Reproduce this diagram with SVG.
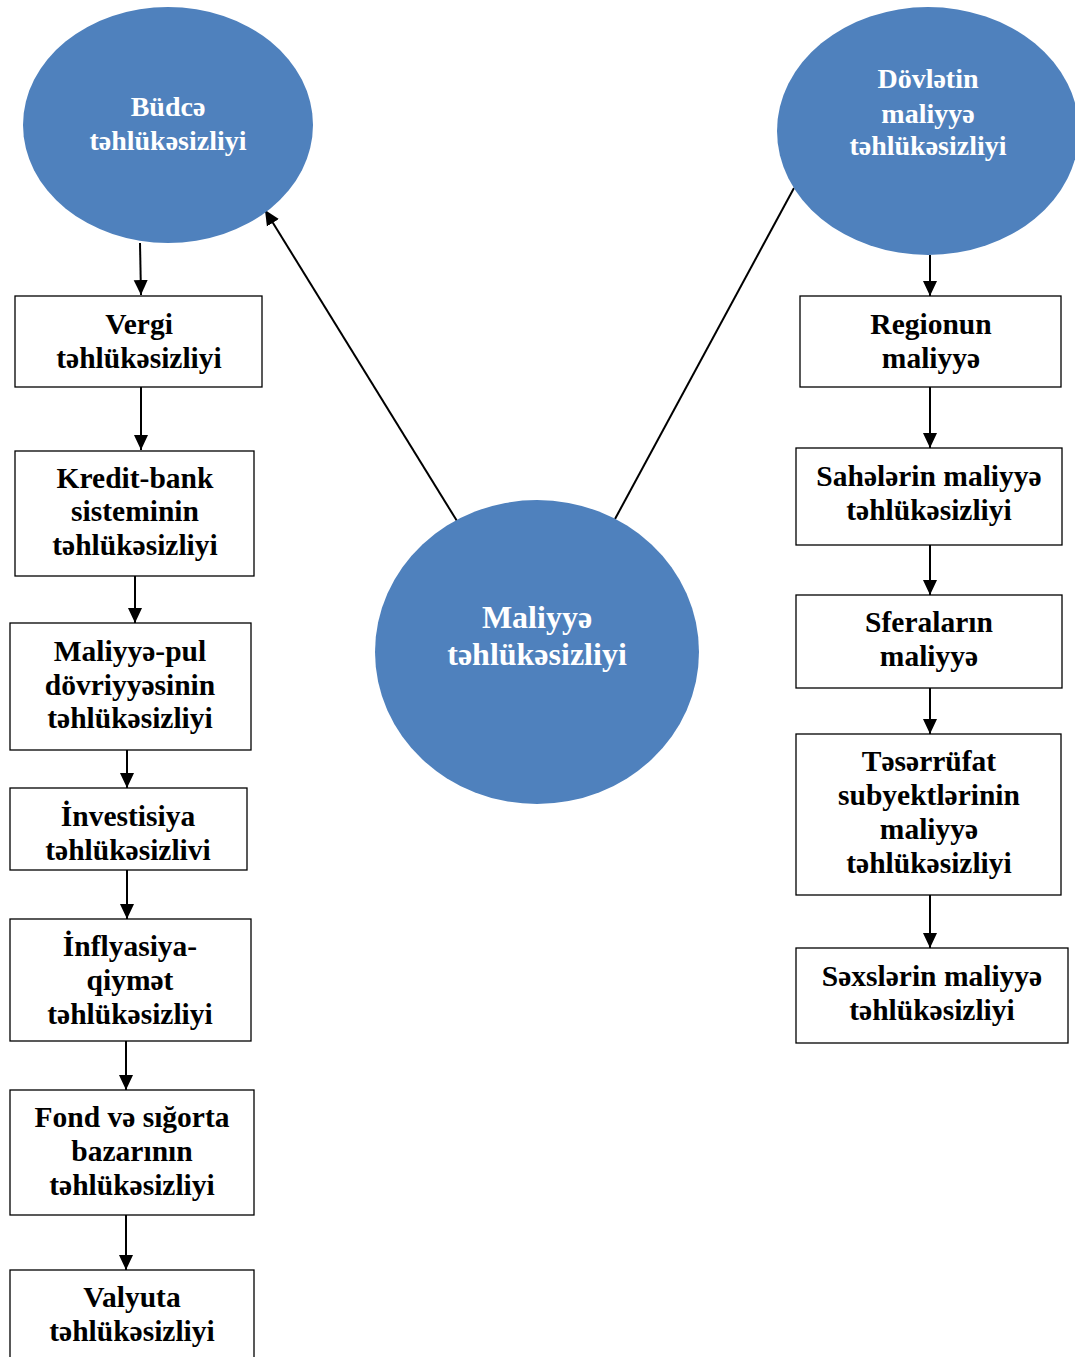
<svg xmlns="http://www.w3.org/2000/svg" width="1075" height="1357" viewBox="0 0 1075 1357">
<style>
.ell{fill:#4F81BD;stroke:none}
.box{fill:#fff;stroke:#000;stroke-width:1.3}
.t{font-family:"Liberation Serif","Times New Roman",serif;font-weight:bold;font-size:29.5px;text-anchor:middle;fill:#000}
.w{fill:#fff;font-size:28px}
.big{font-size:32px}
.c{stroke:#000;stroke-width:2;fill:none}
</style>
<defs>
<marker id="ah" markerUnits="userSpaceOnUse" markerWidth="16" markerHeight="16" viewBox="0 0 16 16" refX="15" refY="8" orient="auto">
<path d="M0,1 L15,8 L0,15 Z" fill="#000"/>
</marker>
</defs>
<rect width="1075" height="1357" fill="#fff"/>
<g id="connectors">
<line class="c" x1="140" y1="243" x2="141" y2="295" marker-end="url(#ah)"/>
<line class="c" x1="141" y1="387" x2="141" y2="450" marker-end="url(#ah)"/>
<line class="c" x1="135" y1="576" x2="135" y2="623" marker-end="url(#ah)"/>
<line class="c" x1="127" y1="750" x2="127" y2="788" marker-end="url(#ah)"/>
<line class="c" x1="127" y1="870" x2="127" y2="919" marker-end="url(#ah)"/>
<line class="c" x1="126" y1="1041" x2="126" y2="1090" marker-end="url(#ah)"/>
<line class="c" x1="126" y1="1215" x2="126" y2="1270" marker-end="url(#ah)"/>
<line class="c" x1="930" y1="255" x2="930" y2="296" marker-end="url(#ah)"/>
<line class="c" x1="930" y1="387" x2="930" y2="448" marker-end="url(#ah)"/>
<line class="c" x1="930" y1="545" x2="930" y2="595" marker-end="url(#ah)"/>
<line class="c" x1="930" y1="688" x2="930" y2="734" marker-end="url(#ah)"/>
<line class="c" x1="930" y1="895" x2="930" y2="948" marker-end="url(#ah)"/>
<line class="c" x1="457" y1="521" x2="265" y2="210" marker-end="url(#ah)"/>
<line class="c" x1="615" y1="519" x2="794" y2="188"/>
</g>
<g id="budce">
<ellipse class="ell" cx="168" cy="125" rx="145" ry="118"/>
<text class="t w" x="168" y="116">Büdcə</text>
<text class="t w" x="168" y="150">təhlükəsizliyi</text>
</g>
<g id="dovletin">
<ellipse class="ell" cx="928" cy="131" rx="151" ry="124"/>
<text class="t w" x="928" y="88">Dövlətin</text>
<text class="t w" x="928" y="123">maliyyə</text>
<text class="t w" x="928" y="155">təhlükəsizliyi</text>
</g>
<g id="maliyye">
<ellipse class="ell" cx="537" cy="652" rx="162" ry="152"/>
<text class="t w big" x="537" y="628">Maliyyə</text>
<text class="t w big" x="537" y="665">təhlükəsizliyi</text>
</g>
<g id="vergi">
<rect class="box" x="15" y="296" width="247" height="91"/>
<text class="t" x="139" y="334">Vergi</text>
<text class="t" x="139" y="368">təhlükəsizliyi</text>
</g>
<g id="kredit">
<rect class="box" x="15" y="451" width="239" height="125"/>
<text class="t" x="135" y="488">Kredit-bank</text>
<text class="t" x="135" y="521">sisteminin</text>
<text class="t" x="135" y="555">təhlükəsizliyi</text>
</g>
<g id="maliyyepul">
<rect class="box" x="10" y="623" width="241" height="127"/>
<text class="t" x="130" y="661">Maliyyə-pul</text>
<text class="t" x="130" y="695">dövriyyəsinin</text>
<text class="t" x="130" y="728">təhlükəsizliyi</text>
</g>
<g id="investisiya">
<rect class="box" x="10" y="788" width="237" height="82"/>
<text class="t" x="128" y="826">İnvestisiya</text>
<text class="t" x="128" y="860">təhlükəsizlivi</text>
</g>
<g id="inflyasiya">
<rect class="box" x="10" y="919" width="241" height="122"/>
<text class="t" x="130" y="956">İnflyasiya-</text>
<text class="t" x="130" y="990">qiymət</text>
<text class="t" x="130" y="1024">təhlükəsizliyi</text>
</g>
<g id="fond">
<rect class="box" x="10" y="1090" width="244" height="125"/>
<text class="t" x="132" y="1127">Fond və sığorta</text>
<text class="t" x="132" y="1161">bazarının</text>
<text class="t" x="132" y="1195">təhlükəsizliyi</text>
</g>
<g id="valyuta">
<rect class="box" x="10" y="1270" width="244" height="100"/>
<text class="t" x="132" y="1307">Valyuta</text>
<text class="t" x="132" y="1341">təhlükəsizliyi</text>
</g>
<g id="regionun">
<rect class="box" x="800" y="296" width="261" height="91"/>
<text class="t" x="931" y="334">Regionun</text>
<text class="t" x="931" y="368">maliyyə</text>
</g>
<g id="saheler">
<rect class="box" x="796" y="448" width="266" height="97"/>
<text class="t" x="929" y="486">Sahələrin maliyyə</text>
<text class="t" x="929" y="520">təhlükəsizliyi</text>
</g>
<g id="sferalar">
<rect class="box" x="796" y="595" width="266" height="93"/>
<text class="t" x="929" y="632">Sferaların</text>
<text class="t" x="929" y="666">maliyyə</text>
</g>
<g id="teserrufat">
<rect class="box" x="796" y="734" width="265" height="161"/>
<text class="t" x="929" y="771">Təsərrüfat</text>
<text class="t" x="929" y="805">subyektlərinin</text>
<text class="t" x="929" y="839">maliyyə</text>
<text class="t" x="929" y="873">təhlükəsizliyi</text>
</g>
<g id="sexsler">
<rect class="box" x="796" y="948" width="272" height="95"/>
<text class="t" x="932" y="986">Səxslərin maliyyə</text>
<text class="t" x="932" y="1020">təhlükəsizliyi</text>
</g>
</svg>
